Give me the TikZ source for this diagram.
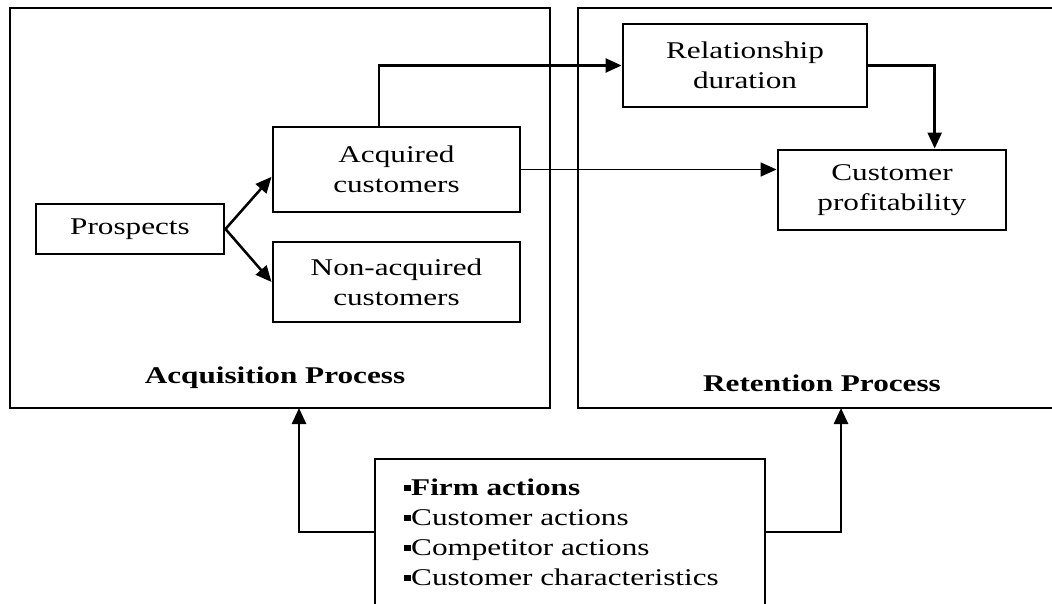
\documentclass[tikz,border=0pt]{standalone}
\usepackage{fontspec}
\setmainfont{Liberation Serif}[FakeStretch=1.3]
\usetikzlibrary{arrows.meta,calc}
\newcommand\sqbul{\rule[0.16em]{0.28em}{0.28em}}
\begin{document}
\begin{tikzpicture}[x=0.75pt,y=-0.75pt,
  frame/.style={draw,line width=2.2pt,rectangle,inner sep=0pt},
  box/.style={draw,line width=2.2pt,align=center,inner sep=0pt,font=\fontsize{18pt}{22.5pt}\selectfont},
  conn/.style={line width=1.9pt,-{Triangle[length=12pt,width=10.5pt]}},
  lbl/.style={font=\fontsize{18pt}{22.5pt}\selectfont\bfseries}]
\useasboundingbox (0,0) rectangle (1052,603);
\clip (0,0) rectangle (1052,603);
% big frames
\node[frame,minimum width=405pt,minimum height=300pt] (leftbox) at (280,208) {};
\node[frame,minimum width=361.5pt,minimum height=300pt] (rightbox) at (819,208) {};
% boxes
\node[box,minimum width=141pt,minimum height=37.5pt] (prospects) at (130,229) {Prospects};
\node[box,minimum width=185.25pt,minimum height=63.75pt] (acq) at (396.5,169.5) {Acquired\\customers};
\node[box,minimum width=185.25pt,minimum height=60pt] (nonacq) at (396.5,282) {Non-acquired\\customers};
\node[box,minimum width=183pt,minimum height=62.25pt] (rel) at (745,65.5) {Relationship\\duration};
\node[box,minimum width=171pt,minimum height=60pt] (prof) at (892,190) {Customer\\profitability};
\node[box,minimum width=292.5pt,minimum height=109.5pt] (factors) at (570,532) {};
\node[box,draw=none,anchor=north west,align=left] (factorstext) at (403,477)
  {\sqbul\textbf{Firm actions}\\\sqbul Customer actions\\\sqbul Competitor actions\\\sqbul Customer characteristics};
% labels
\node[lbl] (acqlbl) at (275,378) {Acquisition Process};
\node[lbl] (retlbl) at (822,383) {Retention Process};
% connectors
\draw[conn] (prospects.east) -- ([yshift=-5.5pt]acq.west);
\draw[conn] (prospects.east) -- (nonacq.west);
\draw[conn] ([xshift=-13pt]acq.north) |- (rel.west);
\draw[conn,line width=1.3pt] (acq.east) -- (acq.east -| prof.west);
\draw[conn] (rel.east) -| ([xshift=32pt]prof.north);
\coordinate (la) at (299,408);
\coordinate (ra) at (841,408);
\draw[conn] (factors.west) -| (la);
\draw[conn] (factors.east) -| (ra);
\end{tikzpicture}
\end{document}
